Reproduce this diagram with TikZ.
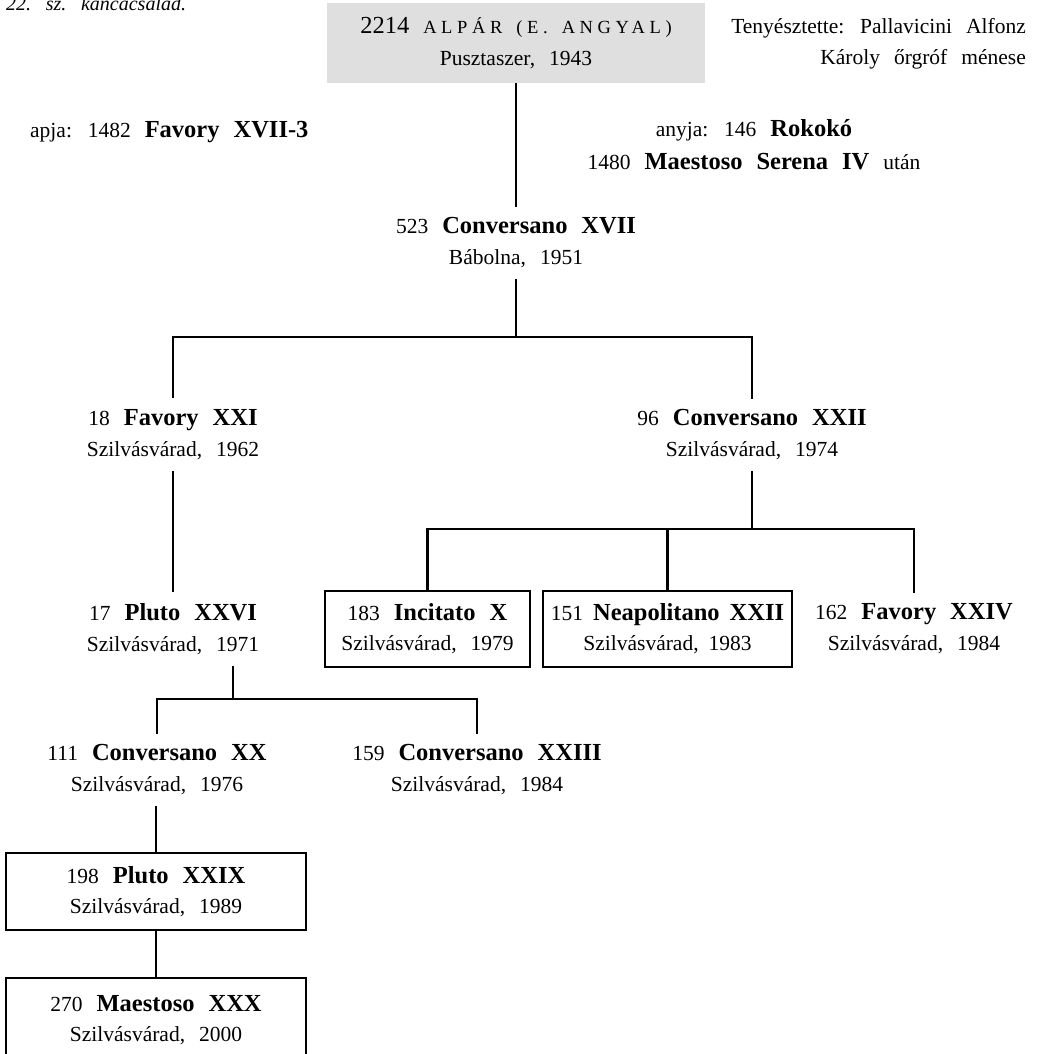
\documentclass[tikz,border=0pt]{standalone}
\usepackage{fontspec}
\setmainfont{Liberation Serif}
\newcommand{\nmb}[1]{{\fontsize{24.5}{31}\selectfont\bfseries #1}}
\newcommand{\rgfont}{\fontsize{21.5}{31}\selectfont\spaceskip=14pt\relax}
\newcommand{\rgboxfont}{\fontsize{21.5}{30}\selectfont\spaceskip=14pt\relax}
\newcommand{\tightfont}{\fontsize{21.5}{30}\selectfont\spaceskip=10pt\relax}
\newcommand{\capfont}{\fontsize{20}{24}\selectfont\itshape\spaceskip=13pt\relax}
\tikzset{
  rg/.style={font=\rgfont},
  rgbox/.style={font=\rgboxfont},
  plain/.style={rg, align=center, inner xsep=4pt, inner ysep=11pt},
  boxed/.style={rgbox, draw, line width=2.7pt, align=center, inner sep=0pt},
  conn/.style={line width=2.7pt, line join=miter},
}
\begin{document}
\begin{tikzpicture}[x=1pt,y=-1pt]
\useasboundingbox (0,0) rectangle (1037,1054);

% caption (cut at the top edge, as in the source page)
\node (caption) [anchor=base west, inner sep=0pt, font=\capfont] at (6,11) {22. sz. kancacsalád.};

% top node
\node (top) [rg, fill=gray!25, minimum width=378pt, minimum height=80pt, align=center, inner sep=0pt] at (516,43)
  {{\fontsize{24.5}{33}\selectfont 2214} {\fontsize{18.5}{33}\selectfont\addfontfeature{LetterSpace=25}ALPÁR (E. ANGYAL)}\\[1pt]Pusztaszer, 1943};

\node (breeder) [rg, align=right, anchor=east, inner sep=0pt] at (1026,44)
  {Tenyésztette: Pallavicini Alfonz\\Károly őrgróf ménese};

\node (apja) [rg, anchor=base west, inner sep=0pt] at (30,138) {apja: 1482 \nmb{Favory XVII-3}};
\node (anyja) [rg, align=center, inner sep=0pt] at (754,145)
  {anyja: 146 \nmb{Rokokó}\\[2pt]1480 \nmb{Maestoso Serena IV} után};

% tree nodes
\node (c523) [plain] at (516,243) {523 \nmb{Conversano XVII}\\Bábolna, 1951};
\node (f18)  [plain] at (173,434.5) {18 \nmb{Favory XXI}\\Szilvásvárad, 1962};
\node (c96)  [plain] at (752,435) {96 \nmb{Conversano XXII}\\Szilvásvárad, 1974};
\node (p17)  [plain] at (173,629) {17 \nmb{Pluto XXVI}\\Szilvásvárad, 1971};
\node (b183) [boxed, minimum width=205pt, minimum height=76pt] at (427.5,629) {183 \nmb{Incitato X}\\Szilvásvárad, 1979};
\node (b151) [boxed, font=\tightfont, minimum width=249pt, minimum height=76pt] at (667.5,629) {151 \nmb{Neapolitano XXII}\\Szilvásvárad, 1983};
\node (f162) [plain] at (914,629) {162 \nmb{Favory XXIV}\\Szilvásvárad, 1984};
\node (c111) [plain] at (157,770) {111 \nmb{Conversano XX}\\Szilvásvárad, 1976};
\node (c159) [plain] at (477,770) {159 \nmb{Conversano XXIII}\\Szilvásvárad, 1984};
\node (b198) [boxed, minimum width=300pt, minimum height=77pt] at (156,891.5) {198 \nmb{Pluto XXIX}\\Szilvásvárad, 1989};
\node (b270) [boxed, minimum width=300pt, minimum height=84pt] at (156,1020) {270 \nmb{Maestoso XXX}\\Szilvásvárad, 2000};

% junctions
\coordinate (j1) at (516,337);
\coordinate (j2) at (752,529);
\coordinate (j3) at (233,699);

% connectors
\draw[conn] (top.south) -- (c523.north);
\draw[conn] (c523.south) -- (j1);
\draw[conn] (f18.north) |- (j1) -| (c96.north);
\draw[conn] (f18.south) -- (p17.north);
\draw[conn] (c96.south) -- (j2);
\draw[conn] (b183.north) |- (j2) -| (f162.north);
\draw[conn] (j2) -| (b151.north);
\draw[conn] (p17.south -| j3) -- (j3);
\draw[conn] (c111.north) |- (j3) -| (c159.north);
\draw[conn] (b198.north |- c111.south) -- (b198.north);
\draw[conn] (b198.south) -- (b270.north);
\end{tikzpicture}
\end{document}
